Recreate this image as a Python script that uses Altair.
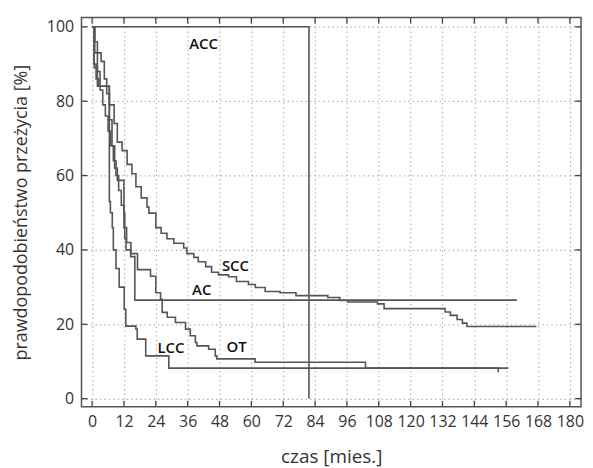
import altair as alt
import pandas as pd

# ---- data ----
acc_t = [0, 81.7]
acc_s = [100, 0]

scc_t = [0, 1, 2, 3.4, 4.6, 5.5, 6.5, 8.3, 9.5, 11.3, 13.2, 15, 16.5, 18.5, 20.7, 21.4, 24, 26, 28.2,
         30.8, 34.5, 35.7, 38.3, 40, 42.8, 45, 47.6, 51.4, 54.4, 58.9, 61.5, 65.2, 70.8, 76.8, 88.8,
         93.3, 96.3, 107.5, 110, 133, 135, 137.5, 139.5, 141.2, 167.4]
scc_s = [100, 96, 93, 90.7, 86, 82, 79, 74, 69, 66.7, 63, 60.5, 57, 54, 51.5, 49.9, 46, 44.5, 43,
         41.8, 40.5, 39, 38, 36.8, 35.5, 34, 33.3, 32.8, 31.5, 30.7, 29.9, 28.8, 28.5, 27.7, 27.2,
         26.4, 26.0, 25.5, 24.2, 23.3, 22.4, 21.3, 20.3, 19.4, 19.4]

ac_t = [0, 0.7, 1.5, 2.5, 6.5, 7.5, 8.5, 9.5, 12, 12.3, 12.8, 14.5, 16.1, 160]
ac_s = [100, 90, 86, 84, 75, 68, 62, 58.7, 50, 43, 40, 38.2, 26.5, 26.5]

lcc_t = [0, 0.8, 2, 6.5, 6.9, 7.6, 8, 9, 10.2, 12.1, 12.7, 16.5, 17, 20.2, 28.9, 156.8]
lcc_s = [100, 89, 84, 53, 50, 46, 40, 35, 30, 24, 19.5, 18.7, 16, 11.5, 8.2, 8.2]

ot_t = [0, 1, 2, 3, 4, 5, 6, 7, 8, 9, 10, 11, 12, 13, 14.6, 17.1, 22, 24, 25.8, 26.4, 28.3, 31.4,
        35.2, 37, 38.9, 39.5, 43.9, 46.4, 47, 61.4, 103, 153]
ot_s = [100, 93, 88, 83, 79, 76, 72, 68, 64, 60, 56, 52, 46, 42, 39, 34.7, 32.9, 28.5, 26.7, 23.2,
        21.9, 20.5, 18.7, 16.9, 15.1, 14.2, 13.3, 11.5, 10.7, 9.8, 8.2, 7.1]

label_text = ["ACC", "SCC", "AC", "LCC", "OT"]
label_t = [42, 54, 41.3, 29.7, 54.4]
label_s = [95.5, 35.7, 29.3, 13.6, 13.9]

x_ticks = list(range(0, 181, 12))
y_ticks = [0, 20, 40, 60, 80, 100]

# ---- tables ----
rows = []
for name, ts, ss in [("ACC", acc_t, acc_s), ("SCC", scc_t, scc_s), ("AC", ac_t, ac_s),
                     ("LCC", lcc_t, lcc_s), ("OT", ot_t, ot_s)]:
    for i, (t, s) in enumerate(zip(ts, ss)):
        rows.append({"series": name, "t": t, "s": s, "i": i})
curves = pd.DataFrame(rows)
labels = pd.DataFrame({"text": label_text, "t": label_t, "s": label_s})
xt = pd.DataFrame({"v": x_ticks})
yt = pd.DataFrame({"v": y_ticks})

W, H = 503, 392
FONT = "Open Sans"
xscale = alt.Scale(domain=[-4, 184.2], nice=False, zero=False)
yscale = alt.Scale(domain=[-2.2, 102.5], nice=False, zero=False)

common = dict(grid=True, ticks=False, domain=False, labelOverlap=False, labelFlush=False,
              labelBound=False, labelFont=FONT, labelColor="#333", labelFontSize=16,
              titleFont=FONT, titleFontWeight="normal", titleColor="#333",
              gridColor="#b5b5b5", gridDash=[1.5, 3], gridWidth=1.2)
xaxis = alt.Axis(values=x_ticks, title="czas [mies.]", labelPadding=7, titleFontSize=19,
                 titlePadding=18, **common)
yaxis = alt.Axis(values=y_ticks, title="prawdopodobieństwo przeżycia [%]", labelPadding=8,
                 titleFontSize=18, titlePadding=16, **common)

lines = alt.Chart(curves).mark_line(interpolate="step-after", strokeWidth=1.6).encode(
    x=alt.X("t:Q", scale=xscale, axis=xaxis),
    y=alt.Y("s:Q", scale=yscale, axis=yaxis),
    detail="series:N",
    order="i:Q",
    color=alt.value("#555555"),
)

text = alt.Chart(labels).mark_text(font=FONT, fontSize=15, fontWeight=600, color="#111").encode(
    x=alt.X("t:Q", scale=xscale, axis=xaxis),
    y=alt.Y("s:Q", scale=yscale, axis=yaxis),
    text="text:N",
)

tick_len = 6
xt_bot = alt.Chart(xt).mark_rule(color="#444", strokeWidth=1.3).encode(
    x=alt.X("v:Q", scale=xscale, axis=xaxis), y=alt.value(H), y2=alt.value(H - tick_len))
xt_top = alt.Chart(xt).mark_rule(color="#444", strokeWidth=1.3).encode(
    x=alt.X("v:Q", scale=xscale, axis=xaxis), y=alt.value(0), y2=alt.value(tick_len))
yt_left = alt.Chart(yt).mark_rule(color="#444", strokeWidth=1.3).encode(
    y=alt.Y("v:Q", scale=yscale, axis=yaxis), x=alt.value(0), x2=alt.value(tick_len))
yt_right = alt.Chart(yt).mark_rule(color="#444", strokeWidth=1.3).encode(
    y=alt.Y("v:Q", scale=yscale, axis=yaxis), x=alt.value(W), x2=alt.value(W - tick_len))

chart = alt.layer(lines, text, xt_bot, xt_top, yt_left, yt_right).properties(
    width=W, height=H,
    autosize=alt.AutoSizeParams(type="none"),
    padding={"left": 74, "top": 8, "right": 4, "bottom": 60},
).configure(background="white").configure_view(stroke="#555555", strokeWidth=1.5).configure_axis(
    labelOverlap=False, labelFlush=False, labelBound=False,
)

chart.save("out.html", embed_options={"renderer": "svg", "actions": False})
